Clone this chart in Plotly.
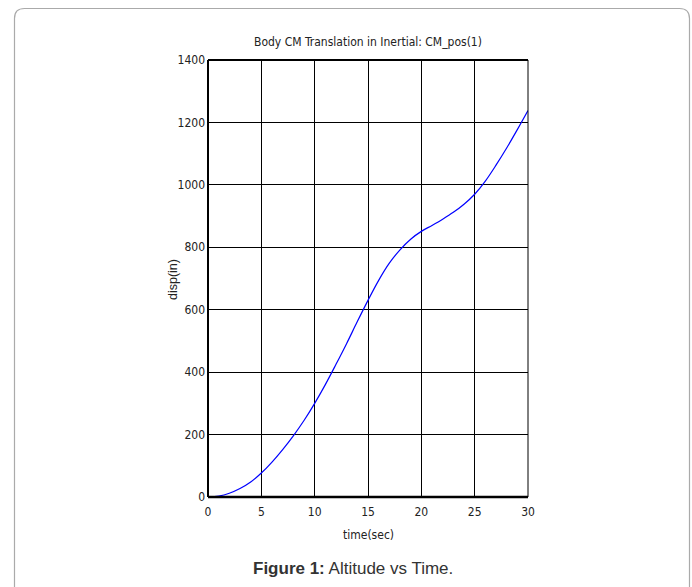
import plotly.graph_objects as go

time_sec = [0, 1, 2, 3, 4, 5, 6, 7, 8, 9, 10, 11, 12, 13, 14, 15, 16, 17, 18, 19, 20,
            21, 22, 23, 24, 25, 26, 27, 28, 29, 30]
disp_in = [0, 3, 12, 27, 48, 77, 112, 152, 196, 245, 300, 360, 425, 492, 562, 630, 694,
           749, 792, 826, 851, 870, 890, 912, 938, 970, 1012, 1063, 1118, 1177, 1238]
x_ticks = [0, 5, 10, 15, 20, 25, 30]
y_ticks = [0, 200, 400, 600, 800, 1000, 1200, 1400]

W, H = 692, 587
L, R, T, B = 208, 528, 60, 497
PW, PH = R - L, B - T

def px(x):
    return (x - L) / PW

def py(y):
    return (B - y) / PH

narrow = "Liberation Sans Narrow, DejaVu Sans Condensed, Arial Narrow, sans-serif"

fig = go.Figure()
fig.add_trace(go.Scatter(x=time_sec, y=disp_in, mode="lines",
                         line=dict(color="#0000ff", width=1.2, shape="spline", smoothing=1.0),
                         showlegend=False, hoverinfo="skip"))

fig.update_xaxes(range=[0, 30], tickvals=x_ticks, showgrid=True, gridcolor="black", gridwidth=1,
                 zeroline=False, showline=False, ticks="inside", ticklen=3, tickcolor="black",
                 ticklabelstandoff=6,
                 tickfont=dict(family=narrow, size=12, color="#222"))
fig.update_yaxes(range=[0, 1400], tickvals=y_ticks, showgrid=True, gridcolor="black", gridwidth=1,
                 zeroline=False, showline=False, ticks="inside", ticklen=3, tickcolor="black",
                 ticklabelstandoff=2,
                 tickfont=dict(family=narrow, size=12, color="#222"))

# rounded border box
x0, x1, y0, y1, r = 14.5, 689.5, 8.5, 600, 10
path = (f"M {px(x0)},{py(y1)} L {px(x0)},{py(y0 + r)} Q {px(x0)},{py(y0)} {px(x0 + r)},{py(y0)} "
        f"L {px(x1 - r)},{py(y0)} Q {px(x1)},{py(y0)} {px(x1)},{py(y0 + r)} L {px(x1)},{py(y1)}")
shapes = [
    dict(type="path", xref="paper", yref="paper", path=path, line=dict(color="#aaaaaa", width=1.2)),
    dict(type="line", xref="paper", yref="paper", x0=0, x1=0, y0=0, y1=1, line=dict(color="black", width=2)),
    dict(type="line", xref="paper", yref="paper", x0=0, x1=1, y0=0, y1=0, line=dict(color="black", width=2.5)),
    dict(type="line", xref="paper", yref="paper", x0=0, x1=1, y0=1, y1=1, line=dict(color="black", width=2)),
    dict(type="line", xref="paper", yref="paper", x0=1, x1=1, y0=0, y1=1, line=dict(color="black", width=1)),
]

annotations = [
    dict(text="Body CM Translation in Inertial: CM_pos(1)", xref="paper", yref="paper", x=0.5, y=py(42),
         showarrow=False, font=dict(family=narrow, size=12, color="#222"), xanchor="center", yanchor="middle"),
    dict(text="time(sec)", xref="paper", yref="paper", x=0.5, y=py(535),
         showarrow=False, font=dict(family=narrow, size=12, color="#222"), xanchor="center", yanchor="middle"),
    dict(text="disp(in)", xref="paper", yref="paper", x=px(173), y=py(280), textangle=-90,
         showarrow=False, font=dict(family="Liberation Sans, Arial, sans-serif", size=12.5, color="#222"),
         xanchor="center", yanchor="middle"),
    dict(text="<b>Figure 1:</b> Altitude vs Time.", xref="paper", yref="paper", x=px(353), y=py(568),
         showarrow=False, font=dict(family="Liberation Sans, Arial, sans-serif", size=17, color="#333"),
         xanchor="center", yanchor="middle"),
]

fig.update_layout(width=W, height=H, margin=dict(l=L, r=W - R, t=T, b=H - B),
                  plot_bgcolor="white", paper_bgcolor="white",
                  shapes=shapes, annotations=annotations)

fig.write_html("out.html")
